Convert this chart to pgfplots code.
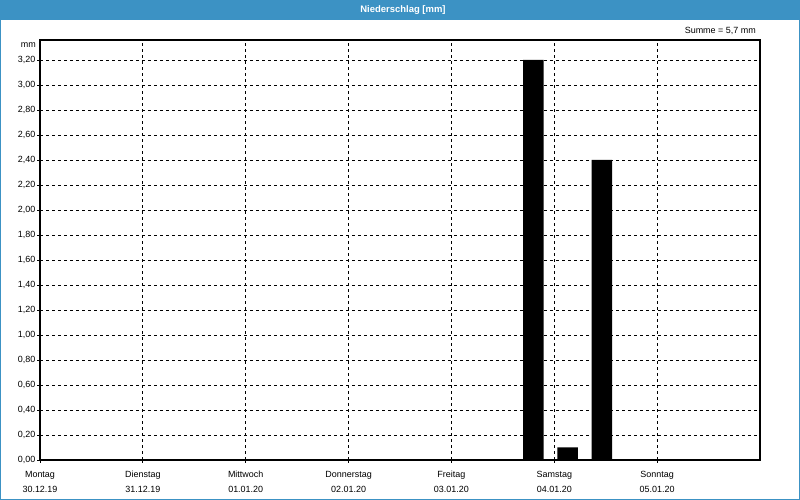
\documentclass[border=0pt]{standalone}
\usepackage{fontspec}
\setmainfont{Liberation Sans}
\usepackage{pgfplots}
\pgfplotsset{compat=1.18}
\definecolor{titleblue}{RGB}{60,146,196}
\newcommand{\xl}[2]{\vphantom{Äd}#1\\#2}
\begin{document}
\begin{tikzpicture}[x=1bp,y=1bp]
\useasboundingbox (0,0) rectangle (800,500);
\fill[white] (0,0) rectangle (800,500);
\fill[titleblue] (0,480) rectangle (800,500);
\draw[titleblue, line width=1.2bp] (0.6,0.6) rectangle (799.4,499.4);
\node[text=white, font=\fontsize{9.5}{11}\selectfont\bfseries] at (403,490) {Niederschlag [mm]};
\node[anchor=east, font=\fontsize{9}{11}\selectfont, inner sep=0pt] at (756,469) {Summe = 5,7 mm};
\node[anchor=east, font=\fontsize{9}{11}\selectfont, inner sep=0pt] at (36,455) {mm};
\begin{axis}[
  at={(40bp,40bp)}, anchor=south west,
  width=720bp, height=420bp, scale only axis,
  xmin=0, xmax=7, ymin=0, ymax=3.36,
  axis line style={line width=1.1bp},
  xtick={0,1,2,3,4,5,6},
  xticklabels={{\xl{Montag}{30.12.19}},{\xl{Dienstag}{31.12.19}},{\xl{Mittwoch}{01.01.20}},{\xl{Donnerstag}{02.01.20}},{\xl{Freitag}{03.01.20}},{\xl{Samstag}{04.01.20}},{\xl{Sonntag}{05.01.20}}},
  xticklabel style={align=center, anchor=north, font=\fontsize{9}{16}\selectfont, yshift=-3bp},
  ytick={0,0.2,0.4,0.6,0.8,1.0,1.2,1.4,1.6,1.8,2.0,2.2,2.4,2.6,2.8,3.0,3.2},
  yticklabel style={font=\fontsize{9}{11}\selectfont, inner sep=1.5bp},
  /pgf/number format/assume math mode=true,
  yticklabel={\pgfmathprintnumber[fixed, fixed zerofill, precision=2, use comma]{\tick}},
  tick pos=left, tick align=outside, major tick length=3bp,
  tick style={black, line width=0.8bp},
  grid=major,
  major grid style={black, line width=0.8bp, dash pattern=on 3bp off 3bp},
  ybar, bar width=0.2,
]
\addplot[fill=black, draw=none, bar shift=0pt] coordinates {(4.797,3.2) (5.13,0.1) (5.463,2.4)};
\end{axis}
\end{tikzpicture}
\end{document}
